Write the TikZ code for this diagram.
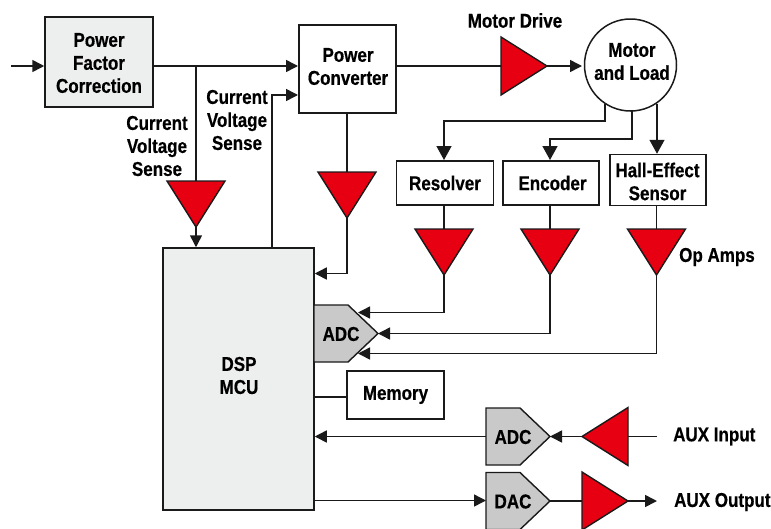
\documentclass[tikz,border=0pt]{standalone}
\usepackage{fontspec}
\setmainfont[FakeStretch=0.85,BoldFeatures={FakeBold=0.5}]{Liberation Sans}
\usetikzlibrary{arrows.meta}
\definecolor{ampred}{HTML}{E60012}
\definecolor{panel}{HTML}{EDEEEE}
\definecolor{convgray}{HTML}{C9C9C9}
\definecolor{ink}{HTML}{1A1A1A}
\tikzset{
  lbl/.style={font=\fontsize{20}{23}\selectfont\bfseries,align=center,inner sep=0pt,text=black},
  blockbox/.style={lbl,draw=ink,line width=1.5pt,fill=white},
  amp/.style={draw=ink,line width=1.4pt,fill=ampred,line join=miter},
  convshape/.style={draw=ink,line width=1.4pt,fill=convgray,line join=miter},
  conn/.style={draw=ink,line width=1.5pt},
  arr/.style={conn,-{Triangle[length=12pt,width=12pt]}},
  bigarr/.style={conn,-{Triangle[length=14pt,width=15pt]}},
}
% down-pointing amplifier: centre x, top y
\newcommand{\ampdown}[3]{%
  \draw[amp] ({#2-29},#3) -- ({#2+29},#3) -- (#2,{#3+46}) -- cycle;
  \coordinate (#1-in) at (#2,#3);
  \coordinate (#1-out) at (#2,{#3+46});}
% right-pointing amplifier: left x, centre y
\newcommand{\ampright}[3]{%
  \draw[amp] (#2,{#3-29}) -- ({#2+46},#3) -- (#2,{#3+29}) -- cycle;
  \coordinate (#1-in) at (#2,#3);
  \coordinate (#1-out) at ({#2+46},#3);}
% left-pointing amplifier: right x, centre y
\newcommand{\ampleft}[3]{%
  \draw[amp] (#2,{#3-29}) -- ({#2-46},#3) -- (#2,{#3+29}) -- cycle;
  \coordinate (#1-in) at (#2,#3);
  \coordinate (#1-out) at ({#2-46},#3);}
% converter pentagon: left x, centre y, text
\newcommand{\conv}[4]{%
  \draw[convshape] (#2,{#3-28.5}) -- ({#2+34},{#3-28.5}) -- ({#2+64},#3) -- ({#2+34},{#3+28.5}) -- (#2,{#3+28.5}) -- cycle;
  \coordinate (#1-in) at (#2,#3);
  \coordinate (#1-out) at ({#2+64},#3);
  \node[lbl] (#1) at ({#2+27},{#3+0.5}) {#4};}
\begin{document}
\begin{tikzpicture}[x=1pt,y=-1pt]
\useasboundingbox (0,0) rectangle (771,528);
% blocks
\node[blockbox,fill=panel,minimum width=108pt,minimum height=90pt] (pfc) at (99,62) {};
\node[lbl] (pfctext) at (99,63) {Power\\Factor\\Correction};
\node[blockbox,minimum width=97pt,minimum height=88pt] (pc) at (347.5,69) {};
\node[lbl] (pctext) at (348,66.5) {Power\\Converter};
\node[blockbox,fill=panel,minimum width=151pt,minimum height=262pt] (dsp) at (238.5,379) {};
\node[lbl] (dsptext) at (239,375.5) {DSP\\MCU};
\node[blockbox,circle,minimum size=92pt] (motor) at (630.5,65) {};
\node[lbl] (motortext) at (632,61.5) {Motor\\and Load};
\node[blockbox,minimum width=97pt,minimum height=44pt] (res) at (445,183) {Resolver};
\node[blockbox,minimum width=96pt,minimum height=44pt] (enc) at (551,183) {\hspace{3pt}Encoder};
\node[blockbox,minimum width=96pt,minimum height=51pt] (hall) at (658,180) {};
\node[lbl] (halltext) at (657.5,181.5) {Hall-Effect\\Sensor};
\node[blockbox,minimum width=97pt,minimum height=48pt] (mem) at (395.5,395) {Memory};
% amplifiers
\ampdown{a1}{196}{181}
\ampdown{a2}{347}{172}
\ampright{a3}{501}{66}
\ampdown{a4}{444}{229}
\ampdown{a5}{550}{229}
\ampdown{a6}{656.5}{229}
\ampleft{a7}{628}{436.5}
\ampright{a8}{582}{501}
% converters
\conv{adcm}{314}{333.5}{ADC}
\conv{adcx}{486}{436.5}{ADC}
\conv{dac}{486}{501}{DAC}
% free-end and junction points
\coordinate (src) at (11,66);
\coordinate (j1) at (196,66);
\coordinate (pcin1) at (298,66);
\coordinate (pcin2) at (298,95);
\coordinate (dspup) at (272,248);
\coordinate (auxin) at (657,436.5);
\coordinate (auxout) at (657,501);
% connectors
\draw[arr] (src) -- (pfc.west |- src);
\draw[arr] (pfc.east |- src) -- (pcin1);
\draw[conn] (j1) -- (a1-in);
\draw[arr] (a1-out) -- (a1-out |- dsp.north);
\draw[arr] (dspup) -- (dspup |- pcin2) -- (pcin2);
\draw[conn] (a2-in |- pc.south) -- (a2-in);
\draw[arr] (a2-out) -- (347,273.5) -- (dsp.east |- 0,273.5);
\draw[conn] (pc.east |- a3-in) -- (a3-in);
\draw[arr] (a3-out) -- (582,66);
\coordinate (m1) at (605,104);
\coordinate (m2) at (632,110);
\coordinate (m3) at (657,104);
\draw[bigarr] (m1) -- (605,121) -- (444,121) -- (444 ,160);
\draw[bigarr] (m2) -- (632,139) -- (550,139) -- (550,160);
\draw[bigarr] (m3) -- (m3 |- hall.north);
\draw[conn] (a4-in |- res.south) -- (a4-in);
\draw[conn] (a5-in |- enc.south) -- (a5-in);
\draw[conn] (a6-in |- hall.south) -- (a6-in);
\draw[arr] (a4-out) -- (444,312.5) -- (358,312.5);
\draw[arr] (a5-out) -- (550,333.5) -- (adcm-out);
\draw[arr] (a6-out) -- (656.5,353.5) -- (358,353.5);
\draw[conn] (dsp.east |- 0,397) -- (mem.west |- 0,397);
\draw[arr] (adcx-in) -- (dsp.east |- adcx-in);
\draw[arr] (a7-out) -- (adcx-out);
\draw[conn] (auxin) -- (a7-in);
\draw[arr] (dsp.east |- 0,500.5) -- (dac-in |- 0,500.5);
\draw[conn] (dac-out) -- (a8-in);
\draw[arr] (a8-out) -- (auxout);
% labels
\node[lbl] (ldrive) at (515,20.5) {Motor Drive};
\node[lbl] (lsense1) at (157,146) {Current\\Voltage\\Sense};
\node[lbl] (lsense2) at (237,120) {Current\\Voltage\\Sense};
\node[lbl,anchor=west] (lops) at (679,257) {Op Amps};
\node[lbl,anchor=west] (lin) at (673,436.5) {AUX Input};
\node[lbl,anchor=west] (lout) at (674,502) {AUX Output};
\end{tikzpicture}
\end{document}
